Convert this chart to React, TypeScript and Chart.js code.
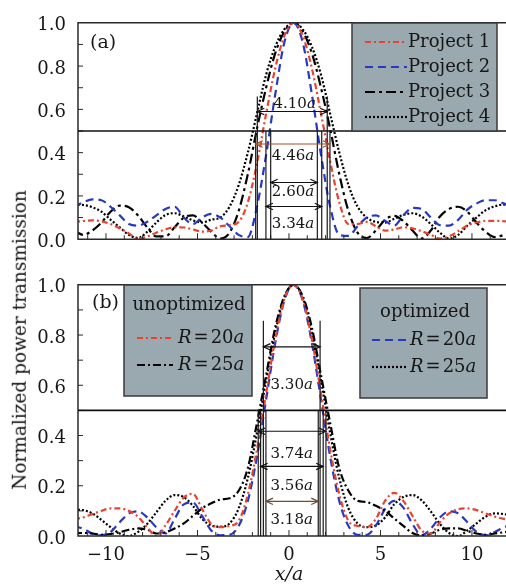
import React, { useEffect, useRef } from 'react';
import { Chart, registerables } from 'chart.js';

Chart.register(...registerables);

// ---------- data ----------
const xValues = [-11.75, -11.25, -10.75, -10.25, -9.75, -9.25, -8.75, -8.25, -7.75, -7.25, -6.75, -6.25, -5.75, -5.25, -4.75, -4.25, -3.75, -3.25, -2.75, -2.25, -1.75, -1.25, -0.75, -0.25, 0.25, 0.75, 1.25, 1.75, 2.25, 2.75, 3.25, 3.75, 4.25, 4.75, 5.25, 5.75, 6.25, 6.75, 7.25, 7.75, 8.25, 8.75, 9.25, 9.75, 10.25, 10.75, 11.25, 11.75, 12.25];

// panel (a)
const project1 = [0.08, 0.084, 0.087, 0.083, 0.07, 0.05, 0.027, 0, 0.013, 0.03, 0.045, 0.055, 0.054, 0.045, 0.035, 0.04, 0.06, 0.065, 0.08, 0.17, 0.35, 0.58, 0.79, 0.94, 1, 0.94, 0.79, 0.58, 0.36, 0.17, 0.07, 0.07, 0.08, 0.06, 0.04, 0.045, 0.055, 0.05, 0.037, 0.02, 0.003, 0.013, 0.037, 0.063, 0.077, 0.085, 0.085, 0.083, 0.08];
const project2 = [0.15, 0.17, 0.184, 0.18, 0.15, 0.11, 0.07, 0.063, 0.08, 0.11, 0.14, 0.15, 0.1, 0.07, 0.1, 0.117, 0.1, 0.06, 0.02, 0.01, 0.15, 0.39, 0.67, 0.91, 1, 0.91, 0.67, 0.39, 0.15, 0.02, 0.015, 0.06, 0.1, 0.11, 0.085, 0.063, 0.11, 0.145, 0.14, 0.1, 0.065, 0.063, 0.09, 0.137, 0.165, 0.18, 0.18, 0.165, 0.15];
const project3 = [0.04, 0.02, 0.04, 0.077, 0.127, 0.155, 0.148, 0.11, 0.055, 0.013, 0.013, 0.055, 0.1, 0.11, 0.077, 0.035, 0.003, 0.03, 0.13, 0.3, 0.51, 0.7, 0.86, 0.96, 1, 0.96, 0.86, 0.7, 0.51, 0.3, 0.13, 0.03, 0.005, 0.04, 0.09, 0.108, 0.084, 0.04, 0.003, 0.04, 0.105, 0.14, 0.15, 0.127, 0.077, 0.034, 0.01, 0.02, 0.04];
const project4 = [0.16, 0.158, 0.148, 0.127, 0.09, 0.055, 0.02, 0.006, 0.034, 0.077, 0.112, 0.12, 0.105, 0.087, 0.077, 0.09, 0.1, 0.15, 0.25, 0.4, 0.58, 0.76, 0.89, 0.97, 1, 0.97, 0.89, 0.76, 0.58, 0.4, 0.25, 0.15, 0.1, 0.08, 0.077, 0.094, 0.112, 0.12, 0.105, 0.07, 0.03, 0.003, 0.02, 0.063, 0.1, 0.134, 0.152, 0.16, 0.16];

// panel (b)
const unoptR20 = [0.068, 0.074, 0.087, 0.1, 0.11, 0.11, 0.1, 0.077, 0.035, 0, 0.042, 0.1, 0.153, 0.168, 0.107, 0.048, 0.035, 0.04, 0.06, 0.165, 0.345, 0.567, 0.783, 0.942, 1, 0.942, 0.783, 0.567, 0.345, 0.165, 0.06, 0.04, 0.035, 0.068, 0.14, 0.172, 0.14, 0.08, 0.022, 0.01, 0.055, 0.09, 0.107, 0.11, 0.103, 0.09, 0.077, 0.068, 0.06];
const unoptR25 = [0.01, 0.012, 0.01, 0.005, 0.008, 0.015, 0.025, 0.03, 0.025, 0.01, 0.015, 0.03, 0.05, 0.08, 0.11, 0.13, 0.145, 0.15, 0.18, 0.27, 0.45, 0.64, 0.83, 0.955, 1, 0.955, 0.83, 0.64, 0.45, 0.27, 0.18, 0.14, 0.135, 0.12, 0.1, 0.07, 0.04, 0.012, 0.002, 0.01, 0.025, 0.03, 0.03, 0.02, 0.01, 0.005, 0.01, 0.015, 0.02];
const optR20 = [0.04, 0.029, 0.01, 0.003, 0.016, 0.055, 0.09, 0.098, 0.074, 0.035, 0.01, 0.068, 0.126, 0.133, 0.08, 0.022, 0.003, 0.005, 0.04, 0.139, 0.316, 0.543, 0.769, 0.938, 1, 0.938, 0.769, 0.543, 0.316, 0.139, 0.04, 0.005, 0.005, 0.042, 0.107, 0.14, 0.113, 0.048, 0.003, 0.029, 0.074, 0.098, 0.09, 0.055, 0.016, 0.003, 0.016, 0.035, 0.045];
const optR25 = [0.105, 0.103, 0.09, 0.064, 0.035, 0.01, 0, 0.016, 0.048, 0.094, 0.14, 0.163, 0.155, 0.12, 0.068, 0.042, 0.037, 0.05, 0.11, 0.23, 0.41, 0.62, 0.81, 0.95, 1, 0.95, 0.81, 0.62, 0.41, 0.23, 0.11, 0.05, 0.035, 0.042, 0.074, 0.126, 0.155, 0.163, 0.142, 0.098, 0.048, 0.012, 0, 0.022, 0.05, 0.077, 0.09, 0.087, 0.08];

// axes
const xTickValues = [-10, -5, 0, 5, 10];
const yTickValues = [0, 0.2, 0.4, 0.6, 0.8, 1.0];
const xMin = -11.53;
const xMax = 11.86;
const halfLevel = 0.5;

// FWHM annotations, panel (a)
const widthLabelsA = ['4.10', '4.46', '2.60', '3.34'];
const widthLeftA = [-1.73, -1.82, -1.0, -1.26];
const widthRightA = [2.09, 2.24, 1.55, 1.79];
const widthArrowYA = [0.59, 0.44, 0.262, 0.151];
const widthLineTopA = [0.66, 0.5, 0.5, 0.5];
const widthTextXA = [0.31, 0.22, 0.22, 0.22];
const widthTextYA = [0.625, 0.383, 0.219, 0.07];

// FWHM annotations, panel (b)
const widthLabelsB = ['3.30', '3.74', '3.56', '3.18'];
const widthLeftB = [-1.4, -1.68, -1.55, -1.26];
const widthRightB = [1.7, 2.02, 1.87, 1.6];
const widthArrowYB = [0.753, 0.417, 0.277, 0.138];
const widthLineTopB = [0.857, 0.5, 0.5, 0.5];
const widthTextXB = [0.15, 0.15, 0.15, 0.15];
const widthTextYB = [0.6, 0.325, 0.2, 0.065];

// ---------- styling ----------
const SERIF = '"DejaVu Serif", serif';
const RED = '#e8432c';
const BLUE = '#2638c4';
const INK = '#161616';
const LEGEND_BG = '#9aa9b0';

type Part = { t?: string; it?: boolean; gap?: number };

function drawParts(ctx: CanvasRenderingContext2D, parts: Part[], x: number, y: number, size: number, align: 'center' | 'left', color: string) {
  const widths: number[] = [];
  let total = 0;
  for (const p of parts) {
    if (p.gap) { widths.push(p.gap); total += p.gap; continue; }
    ctx.font = `${p.it ? 'italic ' : ''}${size}px ${SERIF}`;
    const w = ctx.measureText(p.t || '').width;
    widths.push(w);
    total += w;
  }
  let cx = align === 'center' ? x - total / 2 : x;
  ctx.textAlign = 'left';
  ctx.textBaseline = 'middle';
  ctx.fillStyle = color;
  parts.forEach((p, i) => {
    if (!p.gap) {
      ctx.font = `${p.it ? 'italic ' : ''}${size}px ${SERIF}`;
      ctx.fillText(p.t || '', cx, y);
    }
    cx += widths[i];
  });
}

function mathParts(label: string): Part[] {
  const out: Part[] = [];
  let num = '';
  const flush = () => { if (num) { out.push({ t: num }); num = ''; } };
  for (const ch of label) {
    if (/[A-Za-z]/.test(ch)) { flush(); out.push({ t: ch, it: true }); }
    else if (ch === '=') { flush(); out.push({ gap: 2 }, { t: '=' }, { gap: 2 }); }
    else num += ch;
  }
  flush();
  return out;
}

function seg(ctx: CanvasRenderingContext2D, x1: number, y1: number, x2: number, y2: number) {
  ctx.beginPath();
  ctx.moveTo(x1, y1);
  ctx.lineTo(x2, y2);
  ctx.stroke();
}

function arrow(ctx: CanvasRenderingContext2D, x1: number, x2: number, y: number, color: string) {
  ctx.strokeStyle = color;
  ctx.lineWidth = 1.2;
  seg(ctx, x1, y, x2, y);
  const h = 7, w = 3.2;
  ctx.beginPath();
  ctx.moveTo(x1 + h, y - w); ctx.lineTo(x1, y); ctx.lineTo(x1 + h, y + w);
  ctx.moveTo(x2 - h, y - w); ctx.lineTo(x2, y); ctx.lineTo(x2 - h, y + w);
  ctx.stroke();
}

type LegendRow = { ds: number; y: number; x1: number; x2: number; tx: number; math: boolean };
type LegendBox = { l: number; t: number; r: number; b: number; title?: string; tx?: number; ty?: number; rows: LegendRow[] };

type Decor = {
  panel: string; panelX: number; panelY: number;
  labels: string[]; left: number[]; right: number[]; arrowY: number[]; lineTop: number[]; textX: number[]; textY: number[];
  arrowColors: string[];
  legends: LegendBox[];
  xTitle?: { x: number; y: number };
};

const LEGEND_SIZE = 18;
const NOTE_SIZE = 15;

function makeDecor(cfg: Decor) {
  return {
    id: 'decor-' + cfg.panel,
    afterDatasetsDraw(chart: any) {
      const { ctx, chartArea: ca } = chart;
      const xs = chart.scales.x;
      const ys = chart.scales.y;
      ctx.save();
      // frame (left, top, bottom)
      ctx.strokeStyle = '#2a2a2a';
      ctx.lineWidth = 1.5;
      ctx.beginPath();
      ctx.moveTo(ca.right + 2, ca.top);
      ctx.lineTo(ca.left, ca.top);
      ctx.lineTo(ca.left, ca.bottom);
      ctx.lineTo(ca.right + 2, ca.bottom);
      ctx.stroke();
      // inward ticks
      ctx.lineWidth = 1;
      for (let k = 1; k < 10; k++) {
        const py = ys.getPixelForValue(k / 10);
        seg(ctx, ca.left, py, ca.left + 5, py);
      }
      for (let v = -11; v <= 11; v++) {
        const px = xs.getPixelForValue(v);
        seg(ctx, px, ca.bottom, px, ca.bottom - (v % 5 === 0 ? 6 : 4));
      }
      // half-maximum line
      const yh = ys.getPixelForValue(halfLevel);
      ctx.strokeStyle = '#111';
      ctx.lineWidth = 1.6;
      seg(ctx, ca.left, yh, ca.right, yh);
      // vertical guide lines
      ctx.lineWidth = 1.2;
      cfg.labels.forEach((_, i) => {
        const top = ys.getPixelForValue(cfg.lineTop[i]);
        [cfg.left[i], cfg.right[i]].forEach((xv) => {
          const px = xs.getPixelForValue(xv);
          ctx.strokeStyle = '#1a1a1a';
          seg(ctx, px, top, px, ca.bottom);
        });
      });
      // arrows + labels
      cfg.labels.forEach((lab, i) => {
        arrow(ctx, xs.getPixelForValue(cfg.left[i]), xs.getPixelForValue(cfg.right[i]), ys.getPixelForValue(cfg.arrowY[i]), cfg.arrowColors[i]);
        drawParts(ctx, [{ t: lab }, { t: 'a', it: true }], xs.getPixelForValue(cfg.textX[i]), ys.getPixelForValue(cfg.textY[i]), NOTE_SIZE, 'center', INK);
      });
      // legends
      cfg.legends.forEach((lg) => {
        ctx.setLineDash([]);
        ctx.fillStyle = LEGEND_BG;
        ctx.fillRect(lg.l, lg.t, lg.r - lg.l, lg.b - lg.t);
        ctx.strokeStyle = '#3a3a3a';
        ctx.lineWidth = 1.5;
        ctx.strokeRect(lg.l, lg.t, lg.r - lg.l, lg.b - lg.t);
        if (lg.title) drawParts(ctx, [{ t: lg.title }], lg.tx!, lg.ty!, LEGEND_SIZE, 'center', INK);
        lg.rows.forEach((r) => {
          const ds = chart.data.datasets[r.ds];
          ctx.strokeStyle = ds.borderColor;
          ctx.lineWidth = ds.borderWidth;
          ctx.setLineDash(ds.borderDash || []);
          seg(ctx, r.x1, r.y, r.x2, r.y);
          ctx.setLineDash([]);
          const parts = r.math ? mathParts(ds.label) : [{ t: ds.label }];
          drawParts(ctx, parts, r.tx, r.y, LEGEND_SIZE, 'left', INK);
        });
      });
      // panel tag
      drawParts(ctx, [{ t: cfg.panel }], cfg.panelX, cfg.panelY, 19, 'left', INK);
      // x axis title
      if (cfg.xTitle) drawParts(ctx, [{ t: 'x/a', it: true }], cfg.xTitle.x, cfg.xTitle.y, 19, 'center', INK);
      ctx.restore();
    },
  };
}

function series(label: string, ys: number[], color: string, dash: number[], width = 2.2) {
  return {
    label,
    data: xValues.map((x, i) => ({ x, y: ys[i] })),
    borderColor: color,
    borderDash: dash,
    borderWidth: width,
    pointRadius: 0,
    fill: false,
    cubicInterpolationMode: 'monotone' as const,
  };
}

const tickFont = { family: SERIF, size: 18 };

function yScale() {
  return {
    min: 0,
    max: 1,
    afterBuildTicks: (s: any) => { s.ticks = yTickValues.map((v) => ({ value: v })); },
    ticks: { callback: (v: any) => Number(v).toFixed(1), font: tickFont, color: INK, padding: 12, labelOffset: 3 },
    grid: { display: false, drawTicks: false },
    border: { display: false },
    afterFit: (s: any) => { s.width = 78; },
  };
}

function baseOptions(extra: any) {
  return {
    responsive: false,
    animation: false as const,
    devicePixelRatio: 1,
    events: [],
    plugins: { legend: { display: false }, tooltip: { enabled: false } },
    ...extra,
  };
}

export default function App() {
  const refA = useRef<HTMLCanvasElement>(null);
  const refB = useRef<HTMLCanvasElement>(null);

  useEffect(() => {
    const chartA = new Chart(refA.current!, {
      type: 'line',
      data: {
        datasets: [
          series('Project 1', project1, RED, [6, 3, 2, 3]),
          series('Project 2', project2, BLUE, [8, 5]),
          series('Project 3', project3, '#000', [10, 4, 3, 4]),
          series('Project 4', project4, '#000', [2, 2]),
        ],
      },
      options: baseOptions({
        layout: { padding: { top: 14, bottom: 14, left: 0, right: 0 } },
        scales: {
          x: { type: 'linear', min: xMin, max: xMax, display: false },
          y: yScale(),
        },
      }),
      plugins: [makeDecor({
        panel: '(a)', panelX: 90, panelY: 43,
        labels: widthLabelsA, left: widthLeftA, right: widthRightA, arrowY: widthArrowYA, lineTop: widthLineTopA, textX: widthTextXA, textY: widthTextYA,
        arrowColors: ['#111', '#a0522d', '#111', '#111'],
        legends: [{
          l: 352, t: 23, r: 497, b: 131,
          rows: [
            { ds: 0, y: 42, x1: 365, x2: 407, tx: 408, math: false },
            { ds: 1, y: 67, x1: 365, x2: 407, tx: 408, math: false },
            { ds: 2, y: 92, x1: 365, x2: 407, tx: 408, math: false },
            { ds: 3, y: 117, x1: 365, x2: 407, tx: 408, math: false },
          ],
        }],
      })],
    } as any);

    const chartB = new Chart(refB.current!, {
      type: 'line',
      data: {
        datasets: [
          series('R=20a', unoptR20, RED, [6, 3, 2, 3]),
          series('R=25a', unoptR25, '#000', [8, 3, 2, 3]),
          series('R=20a', optR20, BLUE, [8, 5]),
          series('R=25a', optR25, '#000', [2, 2]),
        ],
      },
      options: baseOptions({
        layout: { padding: { top: 18, bottom: 0, left: 0, right: 0 } },
        scales: {
          x: {
            type: 'linear', min: xMin, max: xMax,
            afterBuildTicks: (s: any) => { s.ticks = xTickValues.map((v) => ({ value: v })); },
            ticks: { callback: (v: any) => (v < 0 ? '\u2212' + Math.abs(v) : String(v)), font: tickFont, color: INK, padding: 9, maxRotation: 0, autoSkip: false },
            grid: { display: false, drawTicks: false },
            border: { display: false },
            afterFit: (s: any) => { s.height = 50; },
          },
          y: yScale(),
        },
      }),
      plugins: [makeDecor({
        panel: '(b)', panelX: 92, panelY: 41,
        labels: widthLabelsB, left: widthLeftB, right: widthRightB, arrowY: widthArrowYB, lineTop: widthLineTopB, textX: widthTextXB, textY: widthTextYB,
        arrowColors: ['#111', '#111', '#111', '#6b4c3b'],
        legends: [
          {
            l: 124, t: 23, r: 252, b: 134, title: 'unoptimized', tx: 189, ty: 43,
            rows: [
              { ds: 0, y: 76, x1: 137, x2: 173, tx: 178, math: true },
              { ds: 1, y: 103, x1: 137, x2: 173, tx: 178, math: true },
            ],
          },
          {
            l: 360, t: 26, r: 487, b: 136, title: 'optimized', tx: 425, ty: 50,
            rows: [
              { ds: 2, y: 78, x1: 372, x2: 407, tx: 410, math: true },
              { ds: 3, y: 105, x1: 372, x2: 407, tx: 410, math: true },
            ],
          },
        ],
        xTitle: { x: 289, y: 313 },
      })],
    } as any);

    return () => { chartA.destroy(); chartB.destroy(); };
  }, []);

  return (
    <div style={{ position: 'absolute', left: 0, top: 0, width: 506, height: 586, background: '#fff', overflow: 'hidden' }}>
      <canvas ref={refA} width={506} height={262} style={{ position: 'absolute', left: 0, top: 0 }} />
      <canvas ref={refB} width={506} height={324} style={{ position: 'absolute', left: 0, top: 262 }} />
      <div
        style={{
          position: 'absolute', left: 20, top: 340,
          transform: 'translate(-50%, -50%) rotate(-90deg)',
          whiteSpace: 'nowrap', fontFamily: SERIF, fontSize: 18.5, lineHeight: 1,
          color: INK,
        }}
      >
        Normalized power transmission
      </div>
    </div>
  );
}
